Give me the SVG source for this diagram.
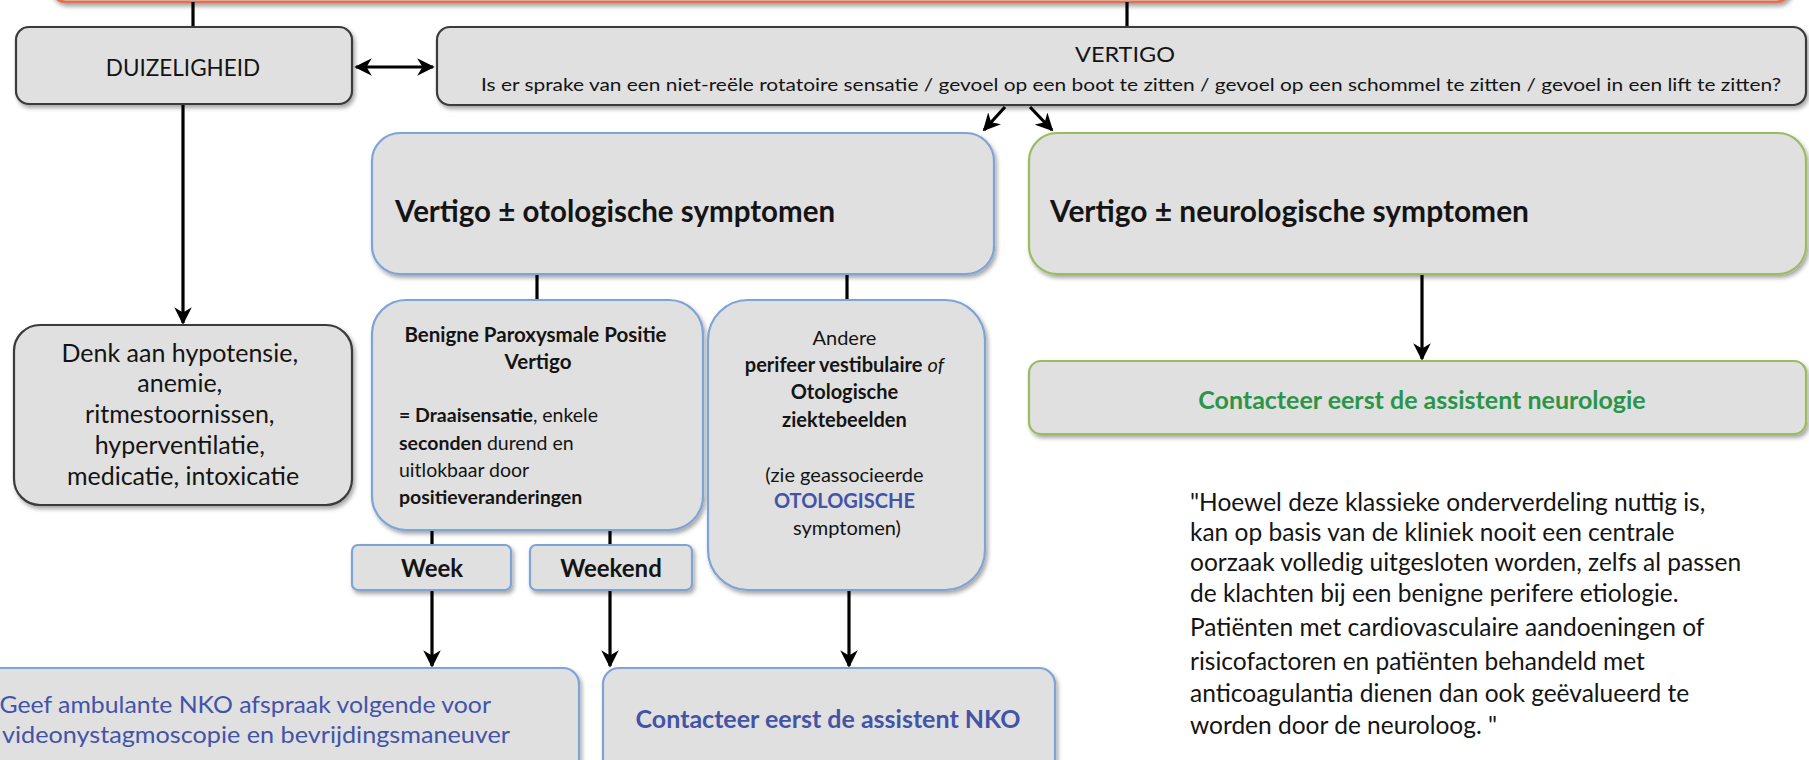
<svg xmlns="http://www.w3.org/2000/svg" width="1809" height="760" viewBox="0 0 1809 760">
<defs>
<style>
.t{font-family:Lato,"Liberation Sans",sans-serif;fill:#141414}
.b{font-weight:bold}
.c{text-anchor:middle}
.box{fill:#e0e0e0;stroke-width:2.2}
.dark{stroke:#3a3a3a}
.blue{stroke:#7ea4d6}
.green{stroke:#9cba5e}
.ln{stroke:#000;stroke-width:3.2;fill:none}
.bt{fill:#4354a8}
.gt{fill:#2a9548}
</style>
<filter id="sh" x="-5%" y="-5%" width="115%" height="125%">
<feDropShadow dx="2" dy="3" stdDeviation="2" flood-color="#000" flood-opacity="0.35"/>
</filter>
<marker id="ar" viewBox="0 0 10 10" refX="9" refY="5" markerWidth="5.5" markerHeight="5.5" orient="auto-start-reverse" markerUnits="strokeWidth">
<path d="M0,0 L10,5 L0,10 L3,5 z" fill="#000"/>
</marker>
</defs>

<g id="top">
<rect x="52" y="-60" width="1738" height="62" rx="14" fill="#e0e0e0" stroke="#e2714f" stroke-width="3" filter="url(#sh)"/>
</g>

<g id="connectors">
<line class="ln" x1="193" y1="2" x2="193" y2="27"/>
<line class="ln" x1="1127" y1="2" x2="1127" y2="27"/>
<line class="ln" x1="356" y1="67" x2="433" y2="67" marker-start="url(#ar)" marker-end="url(#ar)"/>
<line class="ln" x1="183" y1="104" x2="183" y2="323" marker-end="url(#ar)"/>
<line class="ln" x1="1005" y1="107" x2="984" y2="130" marker-end="url(#ar)"/>
<line class="ln" x1="1030" y1="107" x2="1052" y2="130" marker-end="url(#ar)"/>
<line class="ln" x1="537" y1="274" x2="537" y2="300"/>
<line class="ln" x1="847" y1="274" x2="847" y2="300"/>
<line class="ln" x1="432" y1="530" x2="432" y2="545"/>
<line class="ln" x1="610" y1="530" x2="610" y2="545"/>
<line class="ln" x1="432" y1="591" x2="432" y2="666" marker-end="url(#ar)"/>
<line class="ln" x1="610" y1="591" x2="610" y2="666" marker-end="url(#ar)"/>
<line class="ln" x1="849" y1="590" x2="849" y2="666" marker-end="url(#ar)"/>
<line class="ln" x1="1422" y1="274" x2="1422" y2="359" marker-end="url(#ar)"/>
</g>

<g id="duizeligheid">
<rect class="box dark" x="16" y="27" width="336" height="77" rx="13" filter="url(#sh)"/>
<text class="t c" x="183" y="76" font-size="22.5">DUIZELIGHEID</text>
</g>

<g id="vertigo">
<rect class="box dark" x="437" y="27" width="1369" height="78" rx="13" filter="url(#sh)"/>
<text class="t c" x="1125" y="62" font-size="22" textLength="100" lengthAdjust="spacingAndGlyphs">VERTIGO</text>
<text class="t c" x="1131" y="91" font-size="17.5" textLength="1300" lengthAdjust="spacingAndGlyphs">Is er sprake van een niet-reële rotatoire sensatie / gevoel op een boot te zitten / gevoel op een schommel te zitten / gevoel in een lift te zitten?</text>
</g>

<g id="otologisch">
<rect class="box blue" x="372" y="133" width="622" height="141" rx="28" filter="url(#sh)"/>
<text class="t b" x="395" y="222" font-size="29.5" textLength="440" lengthAdjust="spacingAndGlyphs">Vertigo ± otologische symptomen</text>
</g>

<g id="neurologisch">
<rect class="box green" x="1029" y="133" width="777" height="141" rx="28" filter="url(#sh)"/>
<text class="t b" x="1050" y="222" font-size="29.5" textLength="479" lengthAdjust="spacingAndGlyphs">Vertigo ± neurologische symptomen</text>
</g>

<g id="denk">
<rect class="box dark" x="14" y="325" width="338" height="180" rx="26" filter="url(#sh)"/>
<text class="t c" font-size="25">
<tspan x="183" y="362">Denk aan hypotensie,</tspan>
<tspan x="183" y="392">anemie,</tspan>
<tspan x="183" y="423">ritmestoornissen,</tspan>
<tspan x="183" y="454">hyperventilatie,</tspan>
<tspan x="183" y="485">medicatie, intoxicatie</tspan>
</text>
</g>

<g id="bppv">
<rect class="box blue" x="372" y="300" width="331" height="230" rx="34" filter="url(#sh)"/>
<text class="t b c" font-size="20.5">
<tspan x="538" y="342">Benigne Paroxysmale Positie</tspan>
<tspan x="538" y="369">Vertigo</tspan>
</text>
<text class="t" font-size="19.5">
<tspan x="399" y="422"><tspan class="b">= Draaisensatie</tspan>, enkele</tspan>
<tspan x="399" y="450"><tspan class="b">seconden</tspan> durend en</tspan>
<tspan x="399" y="477">uitlokbaar door</tspan>
<tspan x="399" y="504" class="b">positieveranderingen</tspan>
</text>
</g>

<g id="andere">
<rect class="box blue" x="708" y="300" width="277" height="290" rx="40" filter="url(#sh)"/>
<text class="t c" font-size="20">
<tspan x="847" y="345">Andere</tspan>
<tspan x="847" y="372"><tspan class="b">perifeer vestibulaire</tspan> <tspan font-style="italic">of</tspan></tspan>
<tspan x="847" y="399" class="b">Otologische</tspan>
<tspan x="847" y="427" class="b">ziektebeelden</tspan>
<tspan x="847" y="482">(zie geassocieerde</tspan>
<tspan x="847" y="508" class="b bt">OTOLOGISCHE</tspan>
<tspan x="847" y="535">symptomen)</tspan>
</text>
</g>

<g id="week">
<rect class="box blue" x="352" y="545" width="159" height="45" rx="6" filter="url(#sh)"/>
<text class="t b c" x="432" y="577" font-size="24">Week</text>
</g>

<g id="weekend">
<rect class="box blue" x="530" y="545" width="162" height="45" rx="6" filter="url(#sh)"/>
<text class="t b c" x="611" y="577" font-size="24">Weekend</text>
</g>

<g id="geef">
<rect class="box blue" x="-90" y="668" width="669" height="120" rx="16" filter="url(#sh)"/>
<text class="t c bt" font-size="24">
<tspan x="248" y="713" textLength="491" lengthAdjust="spacingAndGlyphs">Geef ambulante NKO afspraak volgende voor</tspan>
<tspan x="256" y="743" textLength="508" lengthAdjust="spacingAndGlyphs">videonystagmoscopie en bevrijdingsmaneuver</tspan>
</text>
</g>

<g id="nko">
<rect class="box blue" x="603" y="668" width="452" height="120" rx="16" filter="url(#sh)"/>
<text class="t b c bt" x="828" y="728" font-size="25">Contacteer eerst de assistent NKO</text>
</g>

<g id="neurologie">
<rect class="box green" x="1029" y="361" width="777" height="73" rx="12" filter="url(#sh)"/>
<text class="t b c gt" x="1422" y="409" font-size="25">Contacteer eerst de assistent neurologie</text>
</g>

<g id="quote">
<text class="t" font-size="24.5">
<tspan x="1190" y="511">"Hoewel deze klassieke onderverdeling nuttig is,</tspan>
<tspan x="1190" y="541">kan op basis van de kliniek nooit een centrale</tspan>
<tspan x="1190" y="571">oorzaak volledig uitgesloten worden, zelfs al passen</tspan>
<tspan x="1190" y="602">de klachten bij een benigne perifere etiologie.</tspan>
<tspan x="1190" y="636">Patiënten met cardiovasculaire aandoeningen of</tspan>
<tspan x="1190" y="670">risicofactoren en patiënten behandeld met</tspan>
<tspan x="1190" y="702">anticoagulantia dienen dan ook geëvalueerd te</tspan>
<tspan x="1190" y="734">worden door de neuroloog. "</tspan>
</text>
</g>
</svg>
